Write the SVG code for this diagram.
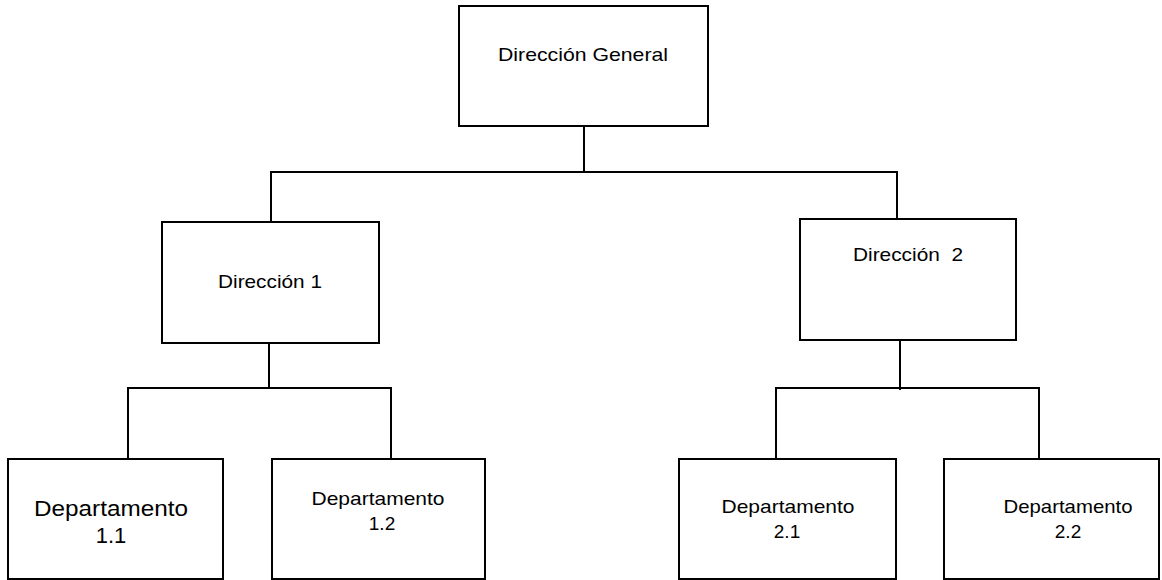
<svg xmlns="http://www.w3.org/2000/svg" width="1162" height="580" viewBox="0 0 1162 580">
<style>
.box{fill:#fff;stroke:#000;stroke-width:2}
.ln{stroke:#000;stroke-width:2;fill:none}
text{font-family:"Liberation Sans",Arial,sans-serif;fill:#000;text-anchor:middle}
.t19{font-size:19px}
.t22{font-size:22px}
</style>
<rect width="1162" height="580" fill="#fff"/>
<g id="connectors" class="ln">
<line x1="584" y1="126" x2="584" y2="172"/>
<line x1="270" y1="172" x2="898" y2="172"/>
<line x1="271" y1="172" x2="271" y2="222"/>
<line x1="897" y1="172" x2="897" y2="219"/>
<line x1="269" y1="343" x2="269" y2="388"/>
<line x1="127" y1="388" x2="392" y2="388"/>
<line x1="128" y1="388" x2="128" y2="459"/>
<line x1="391" y1="388" x2="391" y2="459"/>
<line x1="900" y1="341" x2="900" y2="390"/>
<line x1="775" y1="388" x2="1040" y2="388"/>
<line x1="776" y1="388" x2="776" y2="459"/>
<line x1="1039" y1="388" x2="1039" y2="459"/>
</g>
<g id="n-general">
<rect class="box" x="459" y="6" width="249" height="120"/>
<text class="t19" x="583" y="61" textLength="170" lengthAdjust="spacingAndGlyphs">Dirección General</text>
</g>
<g id="n-dir1">
<rect class="box" x="162" y="222" width="217" height="121"/>
<text class="t19" x="270" y="288" textLength="104" lengthAdjust="spacingAndGlyphs">Dirección 1</text>
</g>
<g id="n-dir2">
<rect class="box" x="800" y="219" width="216" height="121"/>
<text class="t19" x="908" y="261" textLength="110" lengthAdjust="spacingAndGlyphs" xml:space="preserve">Dirección  2</text>
</g>
<g id="n-dep11">
<rect class="box" x="8" y="459" width="215" height="120"/>
<text class="t22" x="111" y="516" textLength="154" lengthAdjust="spacingAndGlyphs">Departamento</text>
<text class="t22" x="111" y="543">1.1</text>
</g>
<g id="n-dep12">
<rect class="box" x="272" y="459" width="213" height="120"/>
<text class="t19" x="378" y="505" textLength="133" lengthAdjust="spacingAndGlyphs">Departamento</text>
<text class="t19" x="382" y="530">1.2</text>
</g>
<g id="n-dep21">
<rect class="box" x="679" y="459" width="217" height="120"/>
<text class="t19" x="788" y="513" textLength="133" lengthAdjust="spacingAndGlyphs">Departamento</text>
<text class="t19" x="787" y="538">2.1</text>
</g>
<g id="n-dep22">
<rect class="box" x="944" y="459" width="215" height="120"/>
<text class="t19" x="1068" y="513" textLength="129" lengthAdjust="spacingAndGlyphs">Departamento</text>
<text class="t19" x="1068" y="538">2.2</text>
</g>
</svg>
